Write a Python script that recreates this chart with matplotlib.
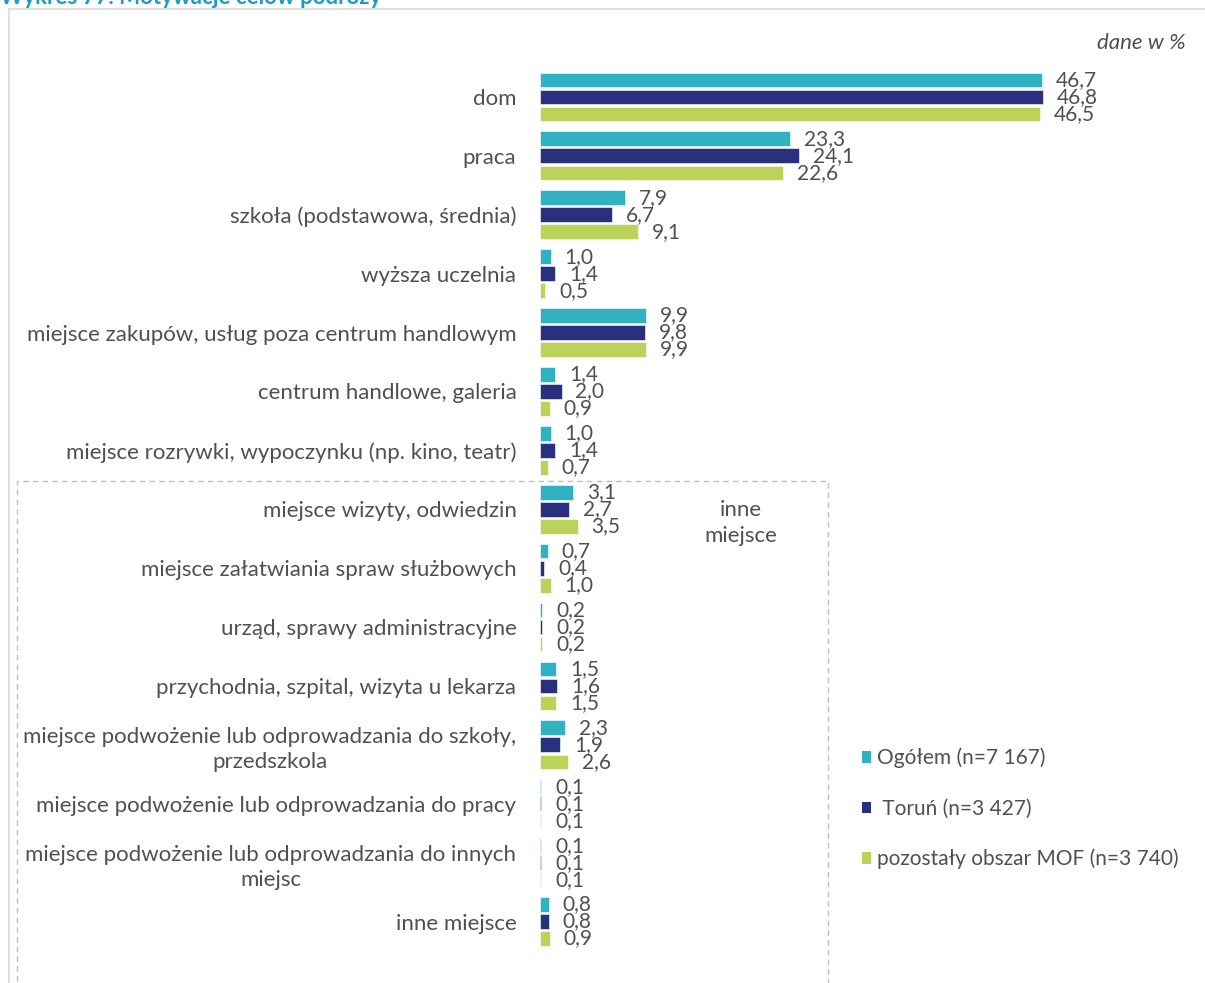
import numpy as np
import matplotlib
matplotlib.use('Agg')
from matplotlib import pyplot as plt
from matplotlib.patches import Rectangle, Patch
from matplotlib.lines import Line2D

plt.rcParams['font.family'] = ['Lato', 'DejaVu Sans']

categories = [
    'dom',
    'praca',
    'szkoła (podstawowa, średnia)',
    'wyższa uczelnia',
    'miejsce zakupów, usług poza centrum handlowym',
    'centrum handlowe, galeria',
    'miejsce rozrywki, wypoczynku (np. kino, teatr)',
    'miejsce wizyty, odwiedzin',
    'miejsce załatwiania spraw służbowych',
    'urząd, sprawy administracyjne',
    'przychodnia, szpital, wizyta u lekarza',
    'miejsce podwożenie lub odprowadzania do szkoły,\nprzedszkola',
    'miejsce podwożenie lub odprowadzania do pracy',
    'miejsce podwożenie lub odprowadzania do innych\nmiejsc',
    'inne miejsce',
]
ogolem = [46.7, 23.3, 7.9, 1.0, 9.9, 1.4, 1.0, 3.1, 0.7, 0.2, 1.5, 2.3, 0.1, 0.1, 0.8]
torun = [46.8, 24.1, 6.7, 1.4, 9.8, 2.0, 1.4, 2.7, 0.4, 0.2, 1.6, 1.9, 0.1, 0.1, 0.8]
mof = [46.5, 22.6, 9.1, 0.5, 9.9, 0.9, 0.7, 3.5, 1.0, 0.2, 1.5, 2.6, 0.1, 0.1, 0.9]
series_names = ['Ogółem (n=7 167)', ' Toruń (n=3 427)', 'pozostały obszar MOF (n=3 740)']
colors = ['#31B2C2', '#29317F', '#BCD35A']

W, H = 1205, 983
fig = plt.figure(figsize=(W / 100, H / 100), dpi=100)

def fx(x):
    return x / W

def fy(y):
    return 1 - y / H

# axes placed in pixel terms
ax = fig.add_axes([fx(540), fy(951), 645 / W, (951 - 67.5) / H])

y = np.arange(len(categories))
step = 0.289
height = 0.25
txt_color = '#505050'
for k, (vals, col) in enumerate(zip([ogolem, torun, mof], colors)):
    pos = y + (k - 1) * step
    ax.barh(pos, vals, height=height, color=col, edgecolor='white', linewidth=0.4)
    for p, v in zip(pos, vals):
        ax.annotate(f'{v:.1f}'.replace('.', ','), (v, p), xytext=(10, 0),
                    textcoords='offset points', ha='left', va='center',
                    fontsize=15, color=txt_color)

ax.set_xlim(0, 60)
ax.set_ylim(len(categories) - 0.5, -0.5)
ax.set_yticks(y)
ax.set_yticklabels(categories, fontsize=16, color=txt_color)
for lbl in ax.get_yticklabels():
    lbl.set_multialignment('center')
    lbl.set_linespacing(1.35)
ax.tick_params(axis='y', length=0, pad=17)
ax.set_xticks([])
for s in ax.spines.values():
    s.set_visible(False)
ax.patch.set_alpha(0)

# frame and title
fig.add_artist(Line2D([fx(8.5), fx(8.5)], [fy(9), fy(990)], color='#D9D9D9', lw=1.2))
fig.add_artist(Line2D([fx(8.5), 1], [fy(9), fy(9)], color='#D9D9D9', lw=1.2))
fig.text(fx(0), fy(4), 'Wykres 77. Motywacje celów podróży', fontsize=16,
         fontweight='bold', color='#1A9CC4', ha='left', va='baseline')
fig.text(fx(1186), fy(43), 'dane w %', fontsize=16, style='italic',
         color=txt_color, ha='right', va='center')

# dashed box around "inne miejsce" group
fig.add_artist(Rectangle((fx(17), fy(1000)), (828 - 17) / W, (1000 - 481) / H,
                         transform=fig.transFigure, fill=False,
                         edgecolor='#BFBFBF', linestyle=(0, (4, 3)), lw=1))
fig.text(fx(741), fy(523), 'inne\nmiejsce', fontsize=16, color=txt_color,
         ha='center', va='center', linespacing=1.35)

# legend
handles = [Patch(facecolor=c, edgecolor='none') for c in colors]
fig.legend(handles, series_names, loc='upper left',
           bbox_to_anchor=(fx(843), fy(729)), frameon=False, fontsize=15,
           handlelength=0.45, handleheight=0.45, handletextpad=0.3,
           labelspacing=1.45, labelcolor=txt_color)

fig.savefig('out.png', dpi=100)
